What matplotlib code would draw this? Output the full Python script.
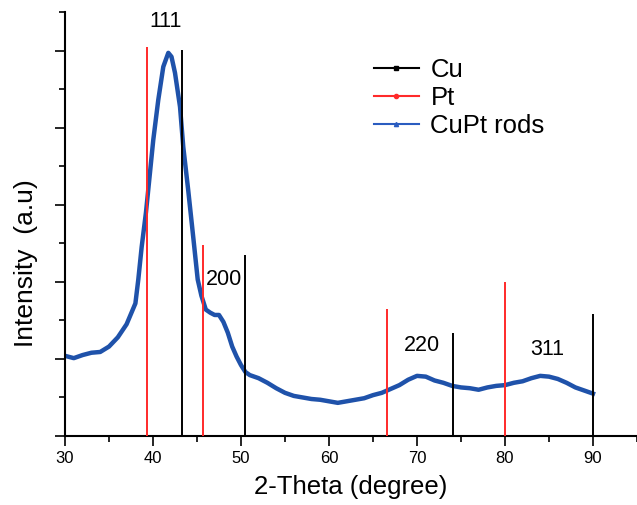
import numpy as np
import matplotlib
matplotlib.use("Agg")
import matplotlib.pyplot as plt
from matplotlib.lines import Line2D
from matplotlib.ticker import MultipleLocator

plt.rcParams.update({"font.family": "Liberation Sans", "axes.linewidth": 1.5})

# ---- data ----
two_theta = [30, 31, 32, 33, 34, 35, 36, 37, 38, 38.33, 38.71, 39.2, 39.66, 40.03,
             40.6, 41.17, 41.74, 42.1, 42.5, 43.07, 43.44, 44.0, 44.6, 45.08, 45.5,
             46, 46.5, 47, 47.5, 48, 48.5, 49, 49.5, 50, 50.5, 51, 52, 53, 54, 55,
             56, 57, 58, 59, 60, 61, 62, 63, 64, 65, 66, 67, 68, 69, 70, 71, 72,
             73, 74, 75, 76, 77, 78, 79, 80, 81, 82, 83, 84, 85, 86, 87, 88, 89, 90]
intensity = [1.04, 1.01, 1.05, 1.08, 1.09, 1.16, 1.28, 1.45, 1.72, 2.03, 2.45, 2.90,
             3.42, 3.84, 4.36, 4.79, 4.97, 4.92, 4.71, 4.27, 3.75, 3.19, 2.55, 2.03,
             1.82, 1.64, 1.60, 1.57, 1.57, 1.48, 1.34, 1.16, 1.03, 0.92, 0.83, 0.79,
             0.75, 0.69, 0.62, 0.56, 0.52, 0.50, 0.48, 0.47, 0.45, 0.43, 0.45, 0.47,
             0.49, 0.53, 0.56, 0.61, 0.66, 0.73, 0.78, 0.77, 0.72, 0.69, 0.65, 0.63,
             0.62, 0.60, 0.63, 0.65, 0.66, 0.69, 0.71, 0.75, 0.78, 0.77, 0.74, 0.69,
             0.63, 0.59, 0.55]

cu_pos = [43.3, 50.45, 74.1, 90.0]
cu_height = [5.01, 2.35, 1.34, 1.58]
pt_pos = [39.3, 45.7, 66.55, 80.0]
pt_height = [5.04, 2.48, 1.65, 2.0]

peak_labels = ["111", "200", "220", "311"]
label_x = [41.4, 48.1, 70.6, 84.8]
label_y = [5.38, 2.03, 1.18, 1.12]

BLUE = "#1f52aa"
RED = "#ff2a2a"

fig = plt.figure(figsize=(6.37, 5.05), dpi=100)
ax = fig.add_axes([65 / 637, 1 - 436 / 505, 1 - 65 / 637, (436 - 12) / 505])

ax.plot(two_theta, intensity, color=BLUE, lw=3.2, zorder=2)
ax.vlines(cu_pos, 0, cu_height, color="black", lw=1.4, zorder=3)
ax.vlines(pt_pos, 0, pt_height, color=RED, lw=1.4, zorder=3)

for t, x, y in zip(peak_labels, label_x, label_y):
    ax.text(x, y, t, ha="center", va="center", fontsize=15.5)

ax.set_xlim(30, 95)
ax.set_ylim(0, 5.5)
ax.yaxis.set_major_locator(MultipleLocator(1))
ax.yaxis.set_minor_locator(MultipleLocator(0.5))
ax.set_xticks([30, 40, 50, 60, 70, 80, 90])
ax.set_xticks([35, 45, 55, 65, 75, 85, 95], minor=True)
ax.tick_params(which="major", length=7, width=1.2, labelsize=12, pad=4)
ax.tick_params(which="minor", length=4, width=1.2)
ax.tick_params(axis="y", which="both", labelleft=False)
ax.spines[["top", "right"]].set_visible(False)

ax.set_xlabel("2-Theta (degree)", fontsize=18.5, labelpad=6)
fig.text(26 / 637, 1 - 263 / 505, "Intensity  (a.u)", rotation=90, ha="center",
         va="center", fontsize=19)

handles = [
    Line2D([], [], color="black", lw=1.5, marker="s", ms=3),
    Line2D([], [], color=RED, lw=1.5, marker="o", ms=3),
    Line2D([], [], color="#2a5cc0", lw=1.5, marker="^", ms=3),
]
ax.legend(handles, ["Cu", "Pt", "CuPt rods"], loc="upper left",
          bbox_to_anchor=(361 / 637, 1 - 45 / 505), bbox_transform=fig.transFigure,
          frameon=False, fontsize=18.5, handlelength=1.75, handletextpad=0.45,
          labelspacing=0.15, borderpad=0)

fig.savefig("out.png", dpi=100)
